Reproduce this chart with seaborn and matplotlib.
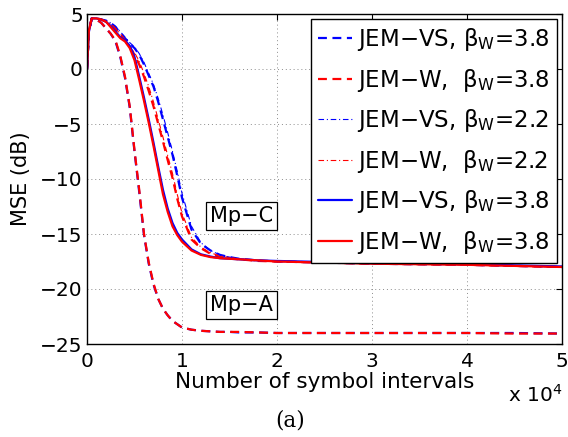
import matplotlib
matplotlib.use('Agg')
import pandas as pd
import seaborn as sns
import matplotlib.pyplot as plt
from matplotlib.ticker import FuncFormatter, MultipleLocator

# symbol index (x axis)
x_sym = [0, 200, 500, 1000, 1500, 2000, 2500, 3000, 3500, 4000, 4500, 5000,
         5500, 6000, 6500, 7000, 7500, 8000, 8500, 9000, 9500, 10000, 11000, 12000,
         13000, 14000, 15000, 16000, 18000, 20000, 25000, 30000, 35000, 40000, 45000, 50000]

# Mp-A, dashed (beta_W = 3.8)
mpa_vs = [0, 3.4, 4.6, 4.5, 4.2, 3.7, 3.2, 2.5, 1.1, -0.8, -3.5, -7.5,
          -11.2, -15.1, -17.7, -19.6, -20.9, -21.8, -22.4, -22.9, -23.2, -23.5, -23.7, -23.8,
          -23.85, -23.9, -23.9, -23.95, -23.95, -24.0, -24.0, -24.0, -24.0, -24.0, -24.0, -24.05]
mpa_w = [0, 3.5, 4.6, 4.5, 4.2, 3.7, 3.2, 2.6, 1.2, -0.7, -3.4, -7.4,
         -11.0, -15.0, -17.6, -19.5, -20.9, -21.8, -22.4, -22.9, -23.2, -23.5, -23.7, -23.8,
         -23.85, -23.9, -23.9, -23.9, -23.95, -24.0, -24.0, -24.0, -24.0, -24.0, -24.05, -24.05]

# Mp-C, dashed (beta_W = 3.8)
mpc_vs_dash = [0, 3.4, 4.6, 4.6, 4.5, 4.4, 4.2, 3.8, 3.3, 2.8, 2.3, 1.9,
               1.3, 0.4, -0.6, -1.6, -3.0, -4.6, -6.2, -7.8, -9.7, -11.7, -14.6, -15.9,
               -16.5, -16.9, -17.1, -17.25, -17.4, -17.5, -17.6, -17.7, -17.75, -17.8, -17.9, -18.0]
mpc_w_dash = [0, 3.5, 4.6, 4.6, 4.5, 4.3, 4.0, 3.6, 3.1, 2.6, 2.0, 1.3,
              0.4, -0.7, -2.0, -3.4, -5.0, -6.6, -8.3, -9.9, -11.8, -13.4, -15.5, -16.3,
              -16.8, -17.1, -17.2, -17.3, -17.45, -17.5, -17.6, -17.7, -17.75, -17.8, -17.9, -18.0]

# Mp-C, dash-dot (beta_W = 2.2)
mpc_vs_dd = [0, 3.4, 4.6, 4.6, 4.5, 4.4, 4.2, 3.9, 3.4, 2.9, 2.4, 2.0,
             1.4, 0.6, -0.4, -1.4, -2.7, -4.2, -5.8, -7.5, -9.3, -11.3, -14.3, -15.8,
             -16.5, -16.9, -17.1, -17.25, -17.4, -17.5, -17.6, -17.7, -17.75, -17.8, -17.9, -18.0]
mpc_w_dd = [0, 3.5, 4.6, 4.6, 4.5, 4.3, 4.1, 3.7, 3.2, 2.7, 2.1, 1.5,
            0.7, -0.4, -1.6, -3.0, -4.6, -6.2, -7.9, -9.5, -11.4, -13.1, -15.3, -16.2,
            -16.7, -17.0, -17.15, -17.3, -17.45, -17.5, -17.6, -17.7, -17.75, -17.8, -17.9, -18.0]

# Mp-C, solid (beta_W = 3.8)
mpc_vs_solid = [0, 3.4, 4.6, 4.6, 4.5, 4.3, 3.9, 3.4, 2.9, 2.6, 2.1, 1.1,
                -0.7, -2.6, -4.6, -6.7, -8.9, -11.0, -12.7, -14.0, -14.9, -15.5, -16.4, -16.85,
                -17.05, -17.2, -17.25, -17.3, -17.4, -17.45, -17.55, -17.65, -17.7, -17.75, -17.85, -17.95]
mpc_w_solid = [0, 3.5, 4.6, 4.6, 4.5, 4.3, 3.8, 3.3, 2.8, 2.5, 1.9, 0.8,
               -1.0, -2.9, -4.9, -7.0, -9.2, -11.4, -13.0, -14.3, -15.1, -15.7, -16.5, -16.9,
               -17.1, -17.2, -17.25, -17.3, -17.4, -17.5, -17.6, -17.7, -17.75, -17.8, -17.9, -18.0]

labels = ['JEM\u2212VS, \u03b2$_{\\rm W}$=3.8', 'JEM\u2212W,  \u03b2$_{\\rm W}$=3.8',
          'JEM\u2212VS, \u03b2$_{\\rm W}$=2.2', 'JEM\u2212W,  \u03b2$_{\\rm W}$=2.2',
          'JEM\u2212VS, \u03b2$_{\\rm W}$=3.8', 'JEM\u2212W,  \u03b2$_{\\rm W}$=3.8']

sns.set_style('white')
plt.rcParams['font.family'] = ['DejaVu Sans']
plt.rcParams['mathtext.fontset'] = 'dejavusans'
for k in ('text.color', 'axes.labelcolor', 'xtick.color', 'ytick.color'):
    plt.rcParams[k] = 'black'

fig = plt.figure(figsize=(5.68, 4.37), dpi=100)
ax = fig.add_axes([87 / 568, 1 - 344 / 437, 475 / 568, 330 / 437])

BLUE, RED = (0, 0, 1), (1, 0, 0)
dash = (4, 2.5)
dashdot = (5, 2.5, 1, 2.5)
series = [
    (mpa_vs, BLUE, dash, 1.6, None),
    (mpa_w, RED, dash, 1.6, None),
    (mpc_vs_dash, BLUE, dash, 1.6, labels[0]),
    (mpc_w_dash, RED, dash, 1.6, labels[1]),
    (mpc_vs_dd, BLUE, dashdot, 0.8, labels[2]),
    (mpc_w_dd, RED, dashdot, 0.8, labels[3]),
    (mpc_vs_solid, BLUE, None, 1.6, labels[4]),
    (mpc_w_solid, RED, None, 1.6, labels[5]),
]
for ys, color, dashes, lw, lab in series:
    df = pd.DataFrame({'x': x_sym, 'mse': ys})
    sns.lineplot(data=df, x='x', y='mse', ax=ax, color=color, lw=lw,
                 label=lab if lab else '_nolegend_')
    if dashes:
        ax.lines[-1].set_dashes(dashes)

ax.set_xlim(0, 50000)
ax.set_ylim(-25, 5)
ax.xaxis.set_major_locator(MultipleLocator(10000))
ax.yaxis.set_major_locator(MultipleLocator(5))
ax.xaxis.set_major_formatter(FuncFormatter(lambda v, pos: f'{v / 1e4:.0f}'))
ax.grid(True, color='0.55', lw=0.7, dashes=(1, 3))
ax.tick_params(direction='in', top=True, right=True, length=4, width=0.8,
               labelsize=14.5, color='black', labelcolor='black')
ax.tick_params(axis='x', pad=6)
ax.tick_params(axis='y', pad=3)
for s in ax.spines.values():
    s.set_color('black')
    s.set_linewidth(1.0)

ax.set_xlabel('Number of symbol intervals', fontsize=15.5)
ax.set_ylabel('MSE (dB)', fontsize=15)
ax.xaxis.set_label_coords(0.5, -0.085)
ax.yaxis.set_label_coords(-0.118, 0.5)

handles, labs = ax.get_legend_handles_labels()
leg = ax.legend(handles, labs, loc='upper right', fontsize=16.5, frameon=True,
                fancybox=False, framealpha=1, edgecolor='black',
                handlelength=1.5, handletextpad=0.2, labelspacing=0.59,
                borderpad=0.32, borderaxespad=0.22)
leg.get_frame().set_linewidth(1.0)

box = dict(boxstyle='square,pad=0.2', fc='white', ec='black', lw=0.9)
ax.text(16260, -13.36, 'Mp\u2212C', fontsize=15, ha='center', va='center', bbox=box)
ax.text(16260, -21.45, 'Mp\u2212A', fontsize=15, ha='center', va='center', bbox=box)

fig.text(562 / 568, 1 - 402 / 437, 'x 10$^4$', fontsize=14.5, ha='right', va='baseline')
fig.text(290 / 568, 1 - 426 / 437, '(a)', fontsize=15.5, family='DejaVu Serif',
         ha='center', va='baseline')

fig.savefig('out.png', dpi=100)
